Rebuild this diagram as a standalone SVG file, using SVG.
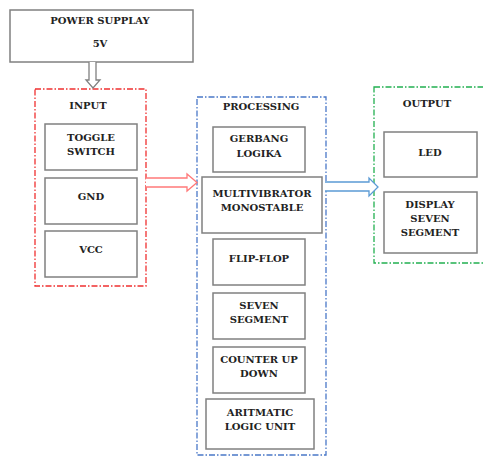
<svg xmlns="http://www.w3.org/2000/svg" width="483" height="459" viewBox="0 0 483 459">
<style>
.box{fill:#fff;stroke:#808080;stroke-width:1.5}
.grp{fill:none;stroke-width:1.3;stroke-dasharray:6 2 1.5 2}
text{font-weight:bold;font-size:10px;fill:#222;text-anchor:middle}
</style>
<rect width="483" height="459" fill="#fff"/>
<g font-family="DejaVu Serif, Liberation Serif, serif">
<g id="power">
<rect class="box" x="10" y="10" width="183" height="52"/>
<text x="100" y="24">POWER SUPPLAY</text>
<text x="100" y="47">5V</text>
</g>
<g id="input">
<rect class="grp" x="35" y="89" width="111" height="197" stroke="#f03030"/>
<text x="88" y="109">INPUT</text>
</g>
<g id="toggle"><rect class="box" x="45" y="124" width="92" height="46"/><text x="91" y="141">TOGGLE</text><text x="91" y="155">SWITCH</text></g>
<g id="gnd"><rect class="box" x="45" y="178" width="92" height="46"/><text x="91" y="200">GND</text></g>
<g id="vcc"><rect class="box" x="45" y="231" width="92" height="46"/><text x="91" y="253">VCC</text></g>
<g id="processing">
<rect class="grp" x="197" y="97" width="129" height="358" stroke="#4a78c8"/>
<text x="261" y="110">PROCESSING</text>
</g>
<g id="gerbang"><rect class="box" x="213" y="127" width="92" height="45"/><text x="259" y="142">GERBANG</text><text x="259" y="157">LOGIKA</text></g>
<g id="multivibrator"><rect class="box" x="202" y="177" width="120" height="56"/><text x="262" y="197">MULTIVIBRATOR</text><text x="262" y="211">MONOSTABLE</text></g>
<g id="flipflop"><rect class="box" x="213" y="239" width="92" height="46"/><text x="259" y="262">FLIP-FLOP</text></g>
<g id="seven"><rect class="box" x="213" y="293" width="92" height="46"/><text x="259" y="309">SEVEN</text><text x="259" y="323">SEGMENT</text></g>
<g id="counter"><rect class="box" x="213" y="347" width="92" height="46"/><text x="259" y="363">COUNTER UP</text><text x="259" y="377">DOWN</text></g>
<g id="alu"><rect class="box" x="206" y="399" width="108" height="50"/><text x="260" y="416">ARITMATIC</text><text x="260" y="430">LOGIC UNIT</text></g>
<g id="output">
<rect class="grp" x="374" y="87" width="120" height="176" stroke="#22b050"/>
<text x="427" y="107">OUTPUT</text>
</g>
<g id="led"><rect class="box" x="384" y="132" width="93" height="45"/><text x="430" y="156">LED</text></g>
<g id="display"><rect class="box" x="384" y="192" width="93" height="61"/><text x="430" y="208">DISPLAY</text><text x="430" y="222">SEVEN</text><text x="430" y="236">SEGMENT</text></g>
</g>
<g id="connectors">
<path d="M89 62 V80 H86 L93 88 L100 80 H96 V62" fill="#fff" stroke="#808080" stroke-width="1.3"/>
<path d="M146 178 H187 V174 L197 182.5 L187 191 V187 H146" fill="#fff" stroke="#ff7a7a" stroke-width="1.3"/>
<path d="M325 182 H369 V178 L378 187 L369 196 V191 H325" fill="#fff" stroke="#5b9bd5" stroke-width="1.3"/>
</g>
</svg>
